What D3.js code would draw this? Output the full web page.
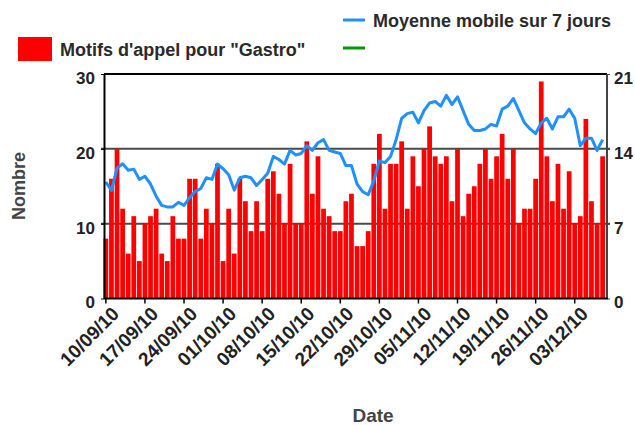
<!DOCTYPE html>
<html>
<head>
<meta charset="utf-8">
<script src="https://cdn.jsdelivr.net/npm/d3@7"></script>
<style>
	body { margin: 0; background: #fff; }
	text { font-family: "Liberation Sans", Arial, sans-serif; font-weight: bold; }
</style>
</head>
<body>
<div id="chart"></div>
<script>
// Daily counts, 10/09/10 -> 08/12/10
const counts = [8, 16, 20, 12, 6, 11, 5, 10, 11, 12,
	6, 5, 11, 8, 8, 16, 16, 8, 12, 10,
	18, 5, 12, 6, 16, 13, 9, 13, 9, 16,
	17, 14, 10, 18, 10, 10, 21, 14, 19, 12,
	11, 9, 9, 13, 14, 7, 7, 9, 18, 22,
	12, 18, 18, 21, 12, 19, 15, 20, 23, 19,
	18, 19, 13, 20, 11, 14, 15, 18, 20, 16,
	19, 22, 16, 20, 10, 12, 12, 16, 29, 19,
	13, 18, 12, 17, 10, 11, 24, 13, 10, 19];

// 7 day moving average (right axis)
const movingAvg = [10.9, 10.1, 12.2, 12.6, 12.0, 12.1, 11.14, 11.43, 10.71, 9.57,
	8.71, 8.57, 8.57, 9.0, 8.71, 9.43, 10.0, 10.29, 11.29, 11.14,
	12.57, 12.14, 11.57, 10.14, 11.29, 11.43, 11.29, 10.57, 11.14, 11.71,
	13.29, 13.0, 12.57, 13.86, 13.43, 13.57, 14.29, 13.86, 14.57, 14.86,
	13.86, 13.71, 13.57, 12.43, 12.43, 10.71, 10.0, 9.71, 11.0, 12.86,
	12.71, 13.29, 14.86, 16.86, 17.29, 17.43, 16.43, 17.57, 18.29, 18.43,
	18.0, 19.0, 18.14, 18.86, 17.57, 16.29, 15.71, 15.71, 15.86, 16.29,
	16.14, 17.71, 18.0, 18.71, 17.57, 16.43, 15.86, 15.43, 16.43, 16.86,
	15.86, 17.0, 17.0, 17.71, 16.86, 14.29, 15.0, 15.0, 13.86, 14.86];

const tickLabels = ['10/09/10', '17/09/10', '24/09/10', '01/10/10', '08/10/10', '15/10/10', '22/10/10',
	'29/10/10', '05/11/10', '12/11/10', '19/11/10', '26/11/10', '03/12/10'];
const leftTicks = [0, 10, 20, 30];
const rightTicks = [0, 7, 14, 21];

const fmt = d3.timeFormat('%d/%m/%y');
const days = d3.timeDay.range(new Date(2010, 8, 10), new Date(2010, 11, 9)).map(fmt);

const w = 635, h = 425;
const plotLeft = 104, plotRight = 607, plotTop = 74, plotBottom = 298.5;

const svg = d3.select('#chart')
	.append('svg')
	.attr('width', w)
	.attr('height', h);

// Scales
const xScale = d3.scaleBand()
	.domain(days)
	.range([103.5, 605])
	.paddingInner(0.15);

const yLeft = d3.scaleLinear()
	.domain([0, 30])
	.range([plotBottom, plotTop]);

const yRight = d3.scaleLinear()
	.domain([0, 21])
	.range([plotBottom, plotTop]);

// Grid lines
svg.selectAll('.grid')
	.data([10, 20])
	.enter()
	.append('line')
	.attr('x1', plotLeft - 3)
	.attr('x2', plotRight + 3)
	.attr('y1', (d) => yLeft(d))
	.attr('y2', (d) => yLeft(d))
	.attr('stroke', '#4a4a4a')
	.attr('stroke-width', 2);

// Bars
svg.selectAll('rect.bar')
	.data(counts)
	.enter()
	.append('rect')
	.attr('class', 'bar')
	.attr('x', (d, i) => xScale(days[i]))
	.attr('y', (d) => yLeft(d))
	.attr('width', xScale.bandwidth())
	.attr('height', (d) => yLeft(0) - yLeft(d))
	.attr('fill', '#ff0000');

// Moving average line
const line = d3.line()
	.x((d, i) => xScale(days[i]) + xScale.bandwidth() / 2)
	.y((d) => yRight(d));

svg.append('path')
	.datum(movingAvg)
	.attr('d', line)
	.attr('fill', 'none')
	.attr('stroke', '#1e90ff')
	.attr('stroke-width', 3)
	.attr('stroke-linejoin', 'round');

// Frame
svg.append('line')
	.attr('x1', plotLeft).attr('x2', plotRight)
	.attr('y1', plotTop).attr('y2', plotTop)
	.attr('stroke', '#000').attr('stroke-width', 2);
svg.append('line')
	.attr('x1', plotRight).attr('x2', plotRight)
	.attr('y1', plotTop).attr('y2', plotBottom)
	.attr('stroke', '#444').attr('stroke-width', 2);

// Axes
const xAxis = d3.axisBottom(xScale)
	.tickValues(tickLabels)
	.tickSize(5)
	.tickSizeOuter(0);

const gx = svg.append('g')
	.attr('transform', 'translate(0,' + plotBottom + ')')
	.call(xAxis);
gx.select('.domain').attr('stroke', '#000').attr('stroke-width', 2).attr('d', 'M' + plotLeft + ',0H' + (plotRight + 1));
gx.selectAll('.tick line').attr('stroke', '#000').attr('stroke-width', 1.5);
gx.selectAll('.tick text')
	.attr('fill', '#222')
	.style('font-size', '19px')
	.attr('text-anchor', 'end')
	.attr('transform', 'translate(5,7) rotate(-45)')
	.attr('x', 0)
	.attr('y', 0)
	.attr('dy', '0.7em');

const gyl = svg.append('g')
	.attr('transform', 'translate(' + plotLeft + ',0)')
	.call(d3.axisLeft(yLeft).tickValues(leftTicks).tickSize(3).tickSizeOuter(0).tickPadding(6));
gyl.select('.domain').attr('stroke', '#000').attr('stroke-width', 2);
gyl.selectAll('.tick line').attr('stroke', '#000');
gyl.selectAll('.tick text').attr('fill', '#222').style('font-size', '17px').attr('dy', '0.55em');

const gyr = svg.append('g')
	.attr('transform', 'translate(' + plotRight + ',0)')
	.call(d3.axisRight(yRight).tickValues(rightTicks).tickSize(3).tickSizeOuter(0).tickPadding(4));
gyr.select('.domain').remove();
gyr.selectAll('.tick line').attr('stroke', '#444');
gyr.selectAll('.tick text').attr('fill', '#222').style('font-size', '17px').attr('dy', '0.55em');

// Axis titles
svg.append('text')
	.attr('transform', 'translate(25,186) rotate(-90)')
	.attr('text-anchor', 'middle')
	.attr('fill', '#444')
	.style('font-size', '18px')
	.text('Nombre');

svg.append('text')
	.attr('x', 373)
	.attr('y', 422)
	.attr('text-anchor', 'middle')
	.attr('fill', '#444')
	.style('font-size', '19px')
	.text('Date');

// Legend
svg.append('rect')
	.attr('x', 18).attr('y', 37)
	.attr('width', 34).attr('height', 24)
	.attr('fill', '#ff0000');
svg.append('text')
	.attr('x', 60).attr('y', 56)
	.attr('fill', '#2a2a2a')
	.style('font-size', '18px')
	.text('Motifs d\'appel pour "Gastro"');

svg.append('line')
	.attr('x1', 343).attr('x2', 365)
	.attr('y1', 20).attr('y2', 20)
	.attr('stroke', '#1e90ff').attr('stroke-width', 3);
svg.append('text')
	.attr('x', 373).attr('y', 27)
	.attr('fill', '#2a2a2a')
	.style('font-size', '18px')
	.text('Moyenne mobile sur 7 jours');

svg.append('line')
	.attr('x1', 343).attr('x2', 365)
	.attr('y1', 48).attr('y2', 48)
	.attr('stroke', '#009900').attr('stroke-width', 3);
</script>
</body>
</html>
